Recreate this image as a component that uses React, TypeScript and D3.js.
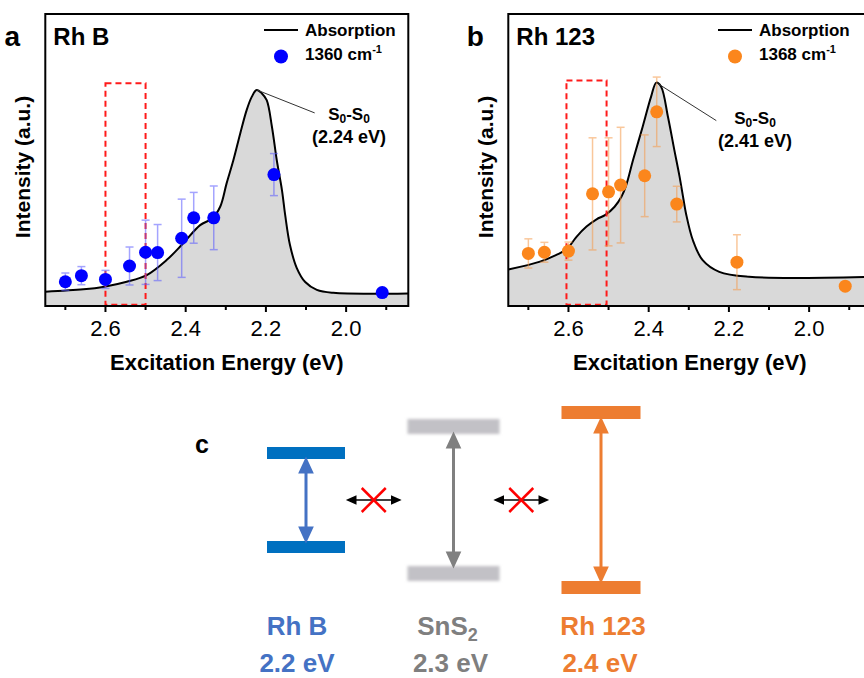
import React from 'react';
import * as d3 from 'd3';

// Raman intensity vs excitation energy (both dyes share the same laser lines)
const excitationEnergy = [2.70, 2.66, 2.60, 2.54, 2.50, 2.47, 2.41, 2.38, 2.33, 2.18, 1.91];
const rhbRaman = [0.083, 0.104, 0.091, 0.137, 0.184, 0.183, 0.232, 0.302, 0.302, 0.450, 0.046];
const rhbRamanErr = [0.030, 0.031, 0.031, 0.065, 0.110, 0.096, 0.134, 0.087, 0.109, 0.072, 0];
const rh123Raman = [0.180, 0.184, 0.188, 0.384, 0.391, 0.414, 0.446, 0.665, 0.349, 0.150, 0.068];
const rh123RamanErr = [0.050, 0.034, 0.031, 0.192, 0.185, 0.198, 0.140, 0.119, 0.061, 0.094, 0];

// absorption spectra (normalised)
const rhbAbsEnergy = [2.750, 2.655, 2.603, 2.547, 2.497, 2.447, 2.410, 2.364, 2.334, 2.314, 2.298, 2.281, 2.264, 2.248, 2.235, 2.223, 2.210, 2.198, 2.185, 2.173, 2.160, 2.152, 2.140, 2.123, 2.102, 2.073, 2.032, 1.845];
const rhbAbs = [0.049, 0.057, 0.066, 0.083, 0.106, 0.158, 0.209, 0.277, 0.300, 0.340, 0.420, 0.500, 0.591, 0.671, 0.717, 0.740, 0.728, 0.705, 0.614, 0.500, 0.397, 0.312, 0.209, 0.130, 0.082, 0.055, 0.045, 0.043];
const rh123AbsEnergy = [2.750, 2.671, 2.630, 2.604, 2.580, 2.555, 2.530, 2.508, 2.485, 2.468, 2.456, 2.439, 2.415, 2.394, 2.381, 2.369, 2.352, 2.336, 2.323, 2.313, 2.307, 2.290, 2.266, 2.224, 2.150, 1.845];
const rh123Abs = [0.125, 0.152, 0.175, 0.195, 0.237, 0.272, 0.297, 0.312, 0.340, 0.374, 0.414, 0.500, 0.614, 0.717, 0.765, 0.751, 0.648, 0.534, 0.443, 0.363, 0.317, 0.226, 0.158, 0.117, 0.100, 0.100];

const majorTicks = [2.6, 2.4, 2.2, 2.0];
const minorTicks = [2.7, 2.5, 2.3, 2.1, 1.9];
const xDomain = [2.75, 1.845];

// panel c: schematic energy levels
const dyeNames = ['Rh B', 'SnS2', 'Rh 123'];
const gapLabels = ['2.2 eV', '2.3 eV', '2.4 eV'];
const drawnHalfGap = [0.94, 1.47, 1.75];

const font = "'Liberation Sans', Arial, Helvetica, sans-serif";
const top = 14;
const bottom = 306;

type PanelProps = {
  left: number;
  right: number;
  letter: string;
  title: string;
  legendLabel: string;
  color: string;
  errColor: string;
  absE: number[];
  absI: number[];
  values: number[];
  errors: number[];
  box: number[];
  peakLabel: string;
  legendX: number;
  annot: { dx: number; dy: number; tx: number; ty: number };
};

function Panel(p: PanelProps) {
  const x = d3.scaleLinear().domain(xDomain).range([p.left, p.right]);
  const y = d3.scaleLinear().domain([0, 1]).range([bottom, top]);
  const pts = p.absE.map((e, i) => [e, p.absI[i]] as [number, number]);
  const line = d3.line<[number, number]>().x(d => x(d[0])).y(d => y(d[1])).curve(d3.curveCatmullRom.alpha(0.5));
  const area = d3.area<[number, number]>().x(d => x(d[0])).y0(bottom).y1(d => y(d[1])).curve(d3.curveCatmullRom.alpha(0.5));
  const peak = pts.reduce((a, b) => (b[1] > a[1] ? b : a));
  const px = x(peak[0]);
  const py = y(peak[1]);
  const clipId = 'clip-' + p.letter;

  return (
    <g fontFamily={font}>
      <defs>
        <clipPath id={clipId}>
          <rect x={p.left} y={top} width={p.right - p.left} height={bottom - top} />
        </clipPath>
      </defs>
      <g clipPath={`url(#${clipId})`}>
        <path d={area(pts) || ''} fill="#d9d9d9" />
        <path d={line(pts) || ''} fill="none" stroke="#000" strokeWidth={2} />
      </g>
      <rect x={x(p.box[0])} y={y(p.box[2])} width={x(p.box[1]) - x(p.box[0])} height={y(0.004) - y(p.box[2])}
        fill="none" stroke="#ff1a1a" strokeWidth={2} strokeDasharray="6,4" />
      {/* error bars */}
      {excitationEnergy.map((e, i) => p.errors[i] > 0 && (
        <g key={'e' + i} stroke={p.errColor} strokeWidth={1.5} opacity={0.55}>
          <line x1={x(e)} x2={x(e)} y1={y(p.values[i] + p.errors[i])} y2={y(p.values[i] - p.errors[i])} />
          <line x1={x(e) - 4} x2={x(e) + 4} y1={y(p.values[i] + p.errors[i])} y2={y(p.values[i] + p.errors[i])} />
          <line x1={x(e) - 4} x2={x(e) + 4} y1={y(p.values[i] - p.errors[i])} y2={y(p.values[i] - p.errors[i])} />
        </g>
      ))}
      {excitationEnergy.map((e, i) => (
        <circle key={'c' + i} cx={x(e)} cy={y(p.values[i])} r={6.5} fill={p.color} />
      ))}
      {/* frame */}
      <rect x={p.left} y={top} width={p.right - p.left} height={bottom - top} fill="none" stroke="#000" strokeWidth={2} />
      {majorTicks.map(t => (
        <g key={'M' + t}>
          <line x1={x(t)} x2={x(t)} y1={bottom} y2={bottom + 6} stroke="#000" strokeWidth={2} />
          <text x={x(t)} y={336} textAnchor="middle" fontSize={22}>{t.toFixed(1)}</text>
        </g>
      ))}
      {minorTicks.map(t => (
        <line key={'m' + t} x1={x(t)} x2={x(t)} y1={bottom} y2={bottom + 4} stroke="#000" strokeWidth={2} />
      ))}
      <text x={(p.left + p.right) / 2} y={370} textAnchor="middle" fontSize={22} fontWeight="bold">Excitation Energy (eV)</text>
      <text transform={`translate(${p.left - 15},167) rotate(-90)`} textAnchor="middle" fontSize={21} fontWeight="bold">Intensity (a.u.)</text>
      <text x={p.left - 33} y={46} fontSize={28} fontWeight="bold" textAnchor="middle">{p.letter}</text>
      <text x={p.left + 8} y={45} fontSize={24} fontWeight="bold">{p.title}</text>
      {/* legend */}
      <line x1={p.legendX} x2={p.legendX + 34} y1={30} y2={30} stroke="#000" strokeWidth={2} />
      <text x={p.legendX + 41} y={36} fontSize={17} fontWeight="bold">Absorption</text>
      <circle cx={p.legendX + 17} cy={56.5} r={7} fill={p.color} />
      <text x={p.legendX + 41} y={60} fontSize={17} fontWeight="bold">
        {p.legendLabel}<tspan dy={-7} fontSize={11}>-1</tspan>
      </text>
      {/* peak annotation */}
      <line x1={px} y1={py} x2={px + p.annot.dx} y2={py + p.annot.dy} stroke="#333" strokeWidth={1} />
      <text x={p.annot.tx} y={p.annot.ty} textAnchor="middle" fontSize={17} fontWeight="bold">
        S<tspan dy={3} fontSize={12}>0</tspan><tspan dy={-3}>-S</tspan><tspan dy={3} fontSize={12}>0</tspan>
      </text>
      <text x={p.annot.tx} y={p.annot.ty + 23} textAnchor="middle" fontSize={18} fontWeight="bold">{p.peakLabel}</text>
    </g>
  );
}

function arrowV(x: number, y1: number, y2: number, hl: number, hw: number) {
  return `M${x},${y1 + hl}L${x},${y2 - hl}` +
    `M${x},${y1}L${x - hw / 2},${y1 + hl}L${x + hw / 2},${y1 + hl}Z` +
    `M${x},${y2}L${x - hw / 2},${y2 - hl}L${x + hw / 2},${y2 - hl}Z`;
}
function arrowH(y: number, x1: number, x2: number, hl: number, hw: number) {
  return `M${x1 + hl},${y}L${x2 - hl},${y}` +
    `M${x1},${y}L${x1 + hl},${y - hw / 2}L${x1 + hl},${y + hw / 2}Z` +
    `M${x2},${y}L${x2 - hl},${y - hw / 2}L${x2 - hl},${y + hw / 2}Z`;
}

function LevelDiagram() {
  const xc = d3.scalePoint<string>().domain(dyeNames).range([306, 601]);
  const yc = d3.scaleLinear().domain([-2, 2]).range([600, 400]);
  const barColor = ['#0070c0', '#c2c1c6', '#ed7d31'];
  const arrowColor = ['#4472c4', '#808080', '#ed7d31'];
  const textColor = ['#4472c4', '#7f7f7f', '#ed7d31'];
  const barW = [78, 92, 79];
  const barH = [12, 15, 13];
  const nameShift = [-9, -6, 2];
  const gapShift = [-9, -3, -1];
  const cols = dyeNames.map(n => xc(n) as number);
  return (
    <g fontFamily={font}>
      <defs>
        <filter id="soft" x="-10%" y="-60%" width="120%" height="220%">
          <feGaussianBlur stdDeviation="1.6" />
        </filter>
      </defs>
      <text x={202} y={453} fontSize={25} fontWeight="bold" textAnchor="middle">c</text>
      {dyeNames.map((n, i) => {
        const cx = cols[i];
        const yt = yc(drawnHalfGap[i]);
        const yb = yc(-drawnHalfGap[i]);
        return (
          <g key={n}>
            <g filter={i === 1 ? 'url(#soft)' : undefined}>
              <rect x={cx - barW[i] / 2} y={yt - barH[i] / 2} width={barW[i]} height={barH[i]} fill={barColor[i]} />
              <rect x={cx - barW[i] / 2} y={yb - barH[i] / 2} width={barW[i]} height={barH[i]} fill={barColor[i]} />
            </g>
            <path d={arrowV(cx, yt + barH[i] / 2 + 1, yb - barH[i] / 2 - 1, 12, 11)} stroke={arrowColor[i]} strokeWidth={3} fill={arrowColor[i]} strokeLinejoin="miter" />
            <text x={cx + nameShift[i]} y={635} textAnchor="middle" fontSize={26} fontWeight="bold" fill={textColor[i]}>
              {i === 1 ? (<>SnS<tspan dy={6} fontSize={18}>2</tspan></>) : n}
            </text>
            <text x={cx + gapShift[i]} y={672} textAnchor="middle" fontSize={26} fontWeight="bold" fill={textColor[i]}>{gapLabels[i]}</text>
          </g>
        );
      })}
      {[0, 1].map(i => {
        const mx = (cols[i] + cols[i + 1]) / 2 - 6;
        const my = yc(0);
        return (
          <g key={'x' + i}>
            <path d={arrowH(my, mx - 26, mx + 26, 8, 7)} stroke="#000" strokeWidth={1.5} fill="#000" />
            <line x1={mx - 12} y1={my - 12} x2={mx + 12} y2={my + 12} stroke="#ff0000" strokeWidth={2.5} />
            <line x1={mx - 12} y1={my + 12} x2={mx + 12} y2={my - 12} stroke="#ff0000" strokeWidth={2.5} />
          </g>
        );
      })}
    </g>
  );
}

export default function App() {
  return (
    <svg width={864} height={678} style={{ position: 'absolute', left: 0, top: 0, background: '#fff' }}>
      <Panel left={45.3} right={408.3} letter="a" title="Rh B" legendLabel="1360 cm" color="#0000ff" errColor="#5a5aff"
        absE={rhbAbsEnergy} absI={rhbAbs} values={rhbRaman} errors={rhbRamanErr} box={[2.6, 2.5, 0.763]}
        peakLabel="(2.24 eV)" legendX={264} annot={{ dx: 58, dy: 23, tx: 349, ty: 120 }} />
      <Panel left={508.3} right={871.3} letter="b" title="Rh 123" legendLabel="1368 cm" color="#fb861c" errColor="#f59a4a"
        absE={rh123AbsEnergy} absI={rh123Abs} values={rh123Raman} errors={rh123RamanErr} box={[2.605, 2.505, 0.772]}
        peakLabel="(2.41 eV)" legendX={718} annot={{ dx: 60, dy: 38, tx: 755, ty: 124 }} />
      <LevelDiagram />
    </svg>
  );
}
